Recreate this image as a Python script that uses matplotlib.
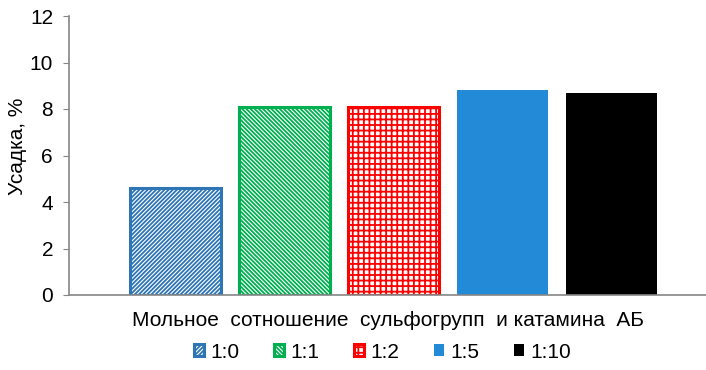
import numpy as np
import matplotlib
matplotlib.use('Agg')
from matplotlib import pyplot as plt

plt.rcParams['font.family'] = ['Liberation Sans', 'DejaVu Sans']
plt.rcParams['hatch.linewidth'] = 1.3

series = ['1:0', '1:1', '1:2', '1:5', '1:10']
values = [4.6, 8.1, 8.1, 8.8, 8.7]
colors = ['#2e75b6', '#00b050', '#ff0000', '#228ad6', '#000000']
hatches = ['////////', '\\\\\\\\\\\\\\\\', '+++', None, None]
xlabel = 'Мольное  сотношение  сульфогрупп  и катамина  АБ'
ylabel = 'Усадка, %'

fig = plt.figure(figsize=(7.06, 3.70), dpi=100)
ax = fig.add_axes([69/706, 1-295/370, 1-69/706, (295-16)/370])

x = np.arange(len(series))
for i in range(len(series)):
    if hatches[i]:
        ax.bar(x[i], values[i], width=0.83, facecolor='white', edgecolor=colors[i],
               hatch=hatches[i], linewidth=2.2, label=series[i])
    else:
        ax.bar(x[i], values[i], width=0.83, color=colors[i], linewidth=0, label=series[i])

ax.set_xlim(-0.977, 4.867)
ax.set_ylim(0, 12)
ax.set_yticks(range(0, 13, 2))
ax.set_xticks([])
ax.tick_params(axis='y', labelsize=15, length=4.5, color='#868686', pad=7)
for s in ['top', 'right']:
    ax.spines[s].set_visible(False)
for s in ['left', 'bottom']:
    ax.spines[s].set_color('#868686')
    ax.spines[s].set_linewidth(1.2)

fig.text(18/706, 1-146.5/370, ylabel, rotation=90, fontsize=15, ha='center', va='center')
fig.text(0.549, 1-320/370, xlabel, fontsize=15, ha='center', va='center')

fig.legend(loc='center', bbox_to_anchor=(0.542, 1-352/370), ncol=5, frameon=False,
           fontsize=15, handlelength=0.5, handleheight=0.5, handletextpad=0.3,
           columnspacing=1.65)

fig.savefig('out.png', dpi=100)
